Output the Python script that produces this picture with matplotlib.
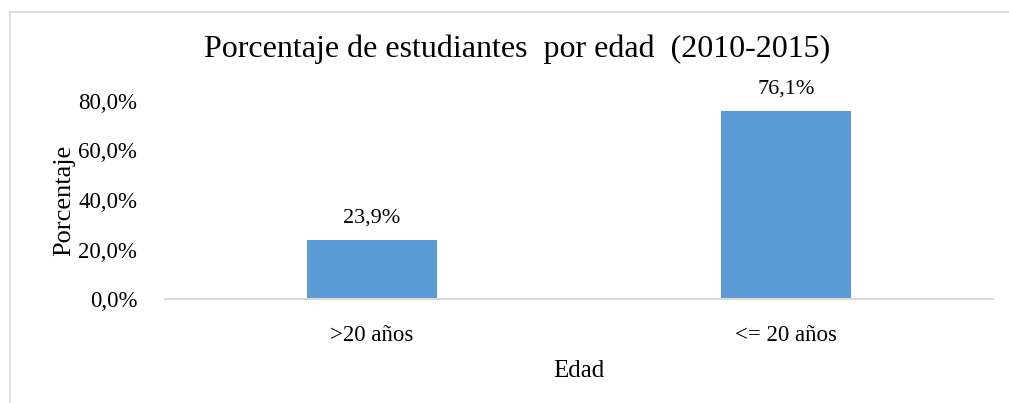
import matplotlib.pyplot as plt
from matplotlib.lines import Line2D
from matplotlib.ticker import FuncFormatter

categories = ['>20 años', '<= 20 años']
values = [23.9, 76.1]
labels = ['23,9%', '76,1%']
yticks = [0, 20, 40, 60, 80]

plt.rcParams['font.family'] = ['Liberation Serif', 'DejaVu Serif']

fig = plt.figure(figsize=(10.09, 4.03), dpi=100)
ax = fig.add_axes([165 / 1009, 1 - 299 / 403, (993 - 165) / 1009, (299 - 101) / 403])

x = list(range(len(categories)))
bars = ax.bar(x, values, width=0.314, color='#5b9bd5', zorder=2)
for b, lab in zip(bars, labels):
    ax.annotate(lab, (b.get_x() + b.get_width() / 2, b.get_height()),
                xytext=(0, 9), textcoords='offset points',
                ha='center', va='bottom', fontsize=16)

ax.set_xlim(-0.5, 1.5)
ax.set_ylim(0, 80)
ax.set_yticks(yticks)
ax.yaxis.set_major_formatter(FuncFormatter(lambda v, p: f'{v:.1f}'.replace('.', ',') + '%'))
ax.set_xticks(x)
ax.set_xticklabels(categories)
ax.tick_params(axis='both', length=0, labelsize=16.5, colors='#000000')
ax.tick_params(axis='y', pad=20)
ax.tick_params(axis='x', pad=19)
for s in ['top', 'right', 'left']:
    ax.spines[s].set_visible(False)
ax.spines['bottom'].set_color('#d9d9d9')
ax.spines['bottom'].set_linewidth(1.5)

ax.set_ylabel('Porcentaje', fontsize=19, labelpad=2)
ax.set_xlabel('Edad', fontsize=18, labelpad=10)
fig.text(517 / 1009, 1 - 49 / 403, 'Porcentaje de estudiantes  por edad  (2010-2015)',
         ha='center', va='center', fontsize=23)

# chart frame (only left and top edges visible in the crop)
fig.add_artist(Line2D([9.5 / 1009, 9.5 / 1009], [0, 1 - 11.5 / 403], color='#d9d9d9', lw=1.2))
fig.add_artist(Line2D([9.5 / 1009, 1], [1 - 11.5 / 403, 1 - 11.5 / 403], color='#d9d9d9', lw=1.2))

fig.savefig('out.png', dpi=100)
